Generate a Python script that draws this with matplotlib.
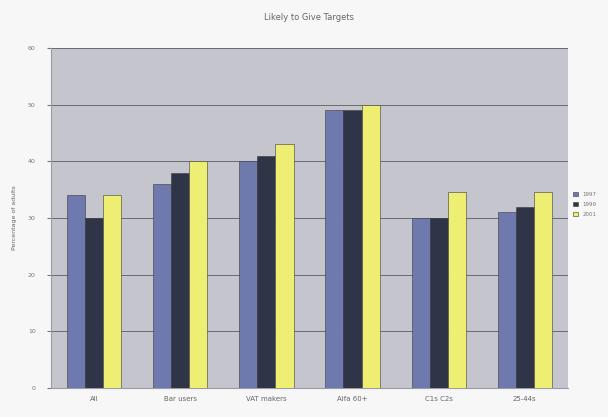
import numpy as np
import matplotlib
matplotlib.use("Agg")
import matplotlib.pyplot as plt

# data
categories = ["All", "Bar users", "VAT makers", "Alfa 60+", "C1s C2s", "25-44s"]
series_names = ["1997", "1999", "2001"]
vals_1997 = [34, 36, 40, 49, 30, 31]
vals_1999 = [30, 38, 41, 49, 30, 32]
vals_2001 = [34, 40, 43, 50, 34.5, 34.5]
yticks = [0, 10, 20, 30, 40, 50, 60]

COLORS = ["#6e7aae", "#2f3447", "#eeef72"]

plt.rcParams.update({
    "font.family": "DejaVu Sans",
    "font.size": 5,
})

fig = plt.figure(figsize=(6.08, 4.17), dpi=100, facecolor="#f7f7f7")
ax = fig.add_axes([0.084, 0.070, 0.850, 0.815])
ax.set_facecolor("#c5c6cd")

x = np.arange(len(categories))
w = 0.21
for i, (vals, name) in enumerate(zip([vals_1997, vals_1999, vals_2001], series_names)):
    ax.bar(x + (i - 1) * w, vals, w, color=COLORS[i], edgecolor="#3a3a3a",
           linewidth=0.4, label=name, zorder=3)

ax.set_ylim(0, 60)
ax.set_xlim(-0.5, len(categories) - 0.5)
ax.set_yticks(yticks)
ax.set_yticklabels([str(t) for t in yticks], color="#777777", fontsize=4.5)
ax.set_xticks(x)
ax.set_xticklabels(categories, color="#666666", fontsize=5)
ax.tick_params(axis="x", length=0, pad=6)
ax.tick_params(axis="y", length=3, color="#777777", pad=8)
ax.yaxis.grid(True, color="#6a6a70", lw=0.7, zorder=1)
ax.set_ylabel("Percentage of adults", color="#666666", fontsize=4.5, labelpad=8)
for side in ["top", "right"]:
    ax.spines[side].set_visible(False)
ax.spines["left"].set_color("#9a9aa8")
ax.spines["bottom"].set_color("#9a9aa8")

ax.set_title("Likely to Give Targets", color="#666666", fontsize=6, pad=20)

fig.legend(loc="center left", bbox_to_anchor=(0.935, 0.51), frameon=False,
           fontsize=4, handlelength=0.8, handleheight=0.8, labelcolor="#777777",
           labelspacing=0.9)

fig.savefig("out.png", dpi=100, facecolor=fig.get_facecolor())
